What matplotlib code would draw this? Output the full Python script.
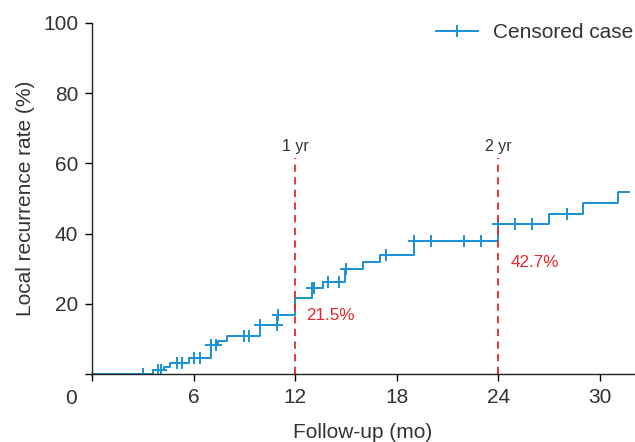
import numpy as np
import matplotlib
matplotlib.use("Agg")
import matplotlib.pyplot as plt
from matplotlib.lines import Line2D

plt.rcParams['font.family'] = ['Liberation Sans', 'DejaVu Sans']

# step times (months) and cumulative recurrence after each step (%)
event_times = [3.6, 4.25, 4.6, 5.7, 7.05, 7.45, 8.0, 9.9, 10.95, 12.0, 13.0, 13.65,
               14.95, 16.0, 17.0, 19.0, 24.0, 27.0, 29.0, 31.05]
event_rates = [1.0, 2.0, 3.2, 4.6, 8.3, 9.5, 10.9, 14.0, 16.8, 21.5, 24.4, 26.1,
               30.0, 31.8, 33.9, 38.0, 42.7, 45.6, 48.6, 51.8]
last_followup = 31.7

# censored cases (months)
censor_times = [3.0, 3.9, 4.1, 5.0, 5.3, 6.0, 6.4, 7.05, 7.3, 9.0, 9.3, 9.9, 10.9,
                11.0, 13.0, 13.1, 13.95, 14.6, 15.0, 17.35, 19.0, 20.0, 22.0, 23.0,
                24.0, 25.0, 26.0, 28.05]

marks = [12, 24]
mark_labels = ["1 yr", "2 yr"]
mark_rates = ["21.5%", "42.7%"]

blue = "#1a93d5"
red = "#e8262a"
txt = "#333333"

t = np.array([0] + event_times + [last_followup])
r = np.array([0] + event_rates + [event_rates[-1]])

# level of the curve at each censored time
idx = np.searchsorted(t, censor_times, side='right') - 1
censor_rates = r[idx]

fig = plt.figure(figsize=(6.35, 4.42), dpi=100)
ax = fig.add_axes([0.145, 0.154, 0.853, 0.794])

ax.step(t, r, where='post', color=blue, lw=1.4)
ax.plot(censor_times, censor_rates, ls='none', marker='+', ms=9, mew=1.4, color=blue)

for m, lab in zip(marks, mark_labels):
    ax.plot([m, m], [0, 61.5], ls=(0, (4, 3)), color=red, lw=1.3)
    ax.text(m, 62.7, lab, ha='center', va='bottom', fontsize=11.5, color=txt)
ax.text(12.65, 16.6, mark_rates[0], ha='left', va='center', fontsize=12.3, color=red)
ax.text(24.75, 31.8, mark_rates[1], ha='left', va='center', fontsize=12.3, color=red)

ax.set_xlim(0, 32)
ax.set_ylim(0, 100)
ax.set_xticks([0, 6, 12, 18, 24, 30])
ax.set_xticklabels(['', '6', '12', '18', '24', '30'])
ax.set_yticks([0, 20, 40, 60, 80, 100])
ax.set_yticklabels(['', '20', '40', '60', '80', '100'])
ax.text(-1.25, -4.2, '0', ha='center', va='top', fontsize=15, color=txt, clip_on=False)

ax.tick_params(direction='out', length=5, width=1, labelsize=15, labelcolor=txt, pad=5)
for s in ['top', 'right']:
    ax.spines[s].set_visible(False)
for s in ['left', 'bottom']:
    ax.spines[s].set_linewidth(1)
    ax.spines[s].set_color('#222222')

ax.set_xlabel('Follow-up (mo)', fontsize=15, color=txt, labelpad=12)
ax.set_ylabel('Local recurrence rate (%)', fontsize=15, color=txt, labelpad=6)

handle = Line2D([], [], color=blue, lw=1.4, marker='+', ms=9, mew=1.4)
ax.legend([handle], ['Censored case'], loc='upper right', frameon=False, fontsize=15,
          handlelength=2.0, handletextpad=0.7, bbox_to_anchor=(1.033, 1.053),
          labelcolor=txt)

fig.savefig('out.png', dpi=100)
